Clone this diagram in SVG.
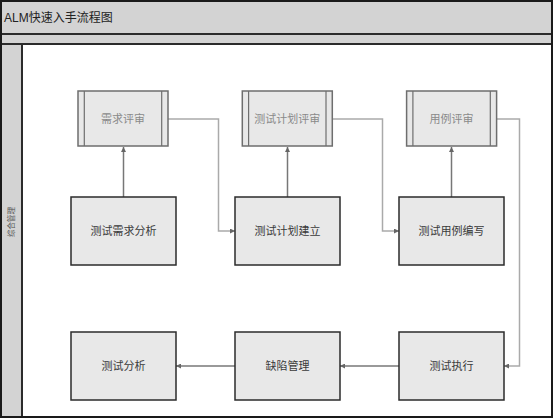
<svg xmlns="http://www.w3.org/2000/svg" width="554" height="419" viewBox="0 0 554 419">
<defs>
<style>
.band{fill:#d3d3d3;stroke:#2b2b2b;stroke-width:2}
.proc{fill:#e8e8e8;stroke:#2b2b2b;stroke-width:1.5}
.rev{fill:#e8e8e8;stroke:#6e6e6e;stroke-width:1.5}
.bar{stroke:#6e6e6e;stroke-width:1.2}
.t{font-family:"Liberation Sans","Noto Sans CJK SC",sans-serif;font-size:11px;text-anchor:middle;dominant-baseline:central}
.tp{fill:#3a3a3a}
.tr{fill:#8a8a8a}
.dk{fill:none;stroke:#777;stroke-width:1.5}
.lt{fill:none;stroke:#aaa;stroke-width:1.5}
</style>
<marker id="ah" viewBox="0 0 6 6" refX="6" refY="3" markerWidth="5" markerHeight="5" markerUnits="userSpaceOnUse" orient="auto">
<path d="M0,0 L6,3 L0,6 z" fill="#666"/>
</marker>
</defs>
<g id="frame">
<rect x="1" y="1" width="551" height="416" fill="#fff" stroke="#2b2b2b" stroke-width="2"/>
<rect class="band" x="1" y="1" width="551" height="33"/>
<rect class="band" x="1" y="34" width="551" height="10"/>
<rect class="band" x="1" y="44" width="21" height="373"/>
<rect x="1" y="1" width="551" height="416" fill="none" stroke="#1a1a1a" stroke-width="2"/>
<text x="4" y="18" font-family="Liberation Sans,'Noto Sans CJK SC',sans-serif" font-size="12" fill="#222" dominant-baseline="central">ALM快速入手流程图</text>
<text transform="translate(11,222) rotate(-90)" font-family="Liberation Sans,'Noto Sans CJK SC',sans-serif" font-size="7.5" fill="#555" text-anchor="middle" dominant-baseline="central">综合管理</text>
</g>
<g id="connectors">
<path class="dk" d="M123.5,197 V147" marker-end="url(#ah)"/>
<path class="dk" d="M287.5,197 V147" marker-end="url(#ah)"/>
<path class="dk" d="M451.5,197 V147" marker-end="url(#ah)"/>
<path class="lt" d="M168,119 H218.5 V231 H235" marker-end="url(#ah)"/>
<path class="lt" d="M332,119 H382.5 V231 H399" marker-end="url(#ah)"/>
<path class="lt" d="M496.5,119 H519.5 V366 H504" marker-end="url(#ah)"/>
<path class="dk" d="M399,366 H340" marker-end="url(#ah)"/>
<path class="dk" d="M235,366 H176" marker-end="url(#ah)"/>
</g>
<g id="n1"><rect class="rev" x="78" y="91" width="90" height="55"/><line class="bar" x1="84.3" y1="91" x2="84.3" y2="146"/><line class="bar" x1="161.7" y1="91" x2="161.7" y2="146"/><text class="t tr" x="123" y="118.5">需求评审</text></g>
<g id="n2"><rect class="rev" x="242.3" y="91" width="90" height="55"/><line class="bar" x1="248.6" y1="91" x2="248.6" y2="146"/><line class="bar" x1="326" y1="91" x2="326" y2="146"/><text class="t tr" x="287.3" y="118.5">测试计划评审</text></g>
<g id="n3"><rect class="rev" x="406.6" y="91" width="90" height="55"/><line class="bar" x1="412.9" y1="91" x2="412.9" y2="146"/><line class="bar" x1="490.3" y1="91" x2="490.3" y2="146"/><text class="t tr" x="451.6" y="118.5">用例评审</text></g>
<g id="n4"><rect class="proc" x="71" y="197" width="105" height="68"/><text class="t tp" x="123.5" y="231">测试需求分析</text></g>
<g id="n5"><rect class="proc" x="235" y="197" width="105" height="68"/><text class="t tp" x="287.5" y="231">测试计划建立</text></g>
<g id="n6"><rect class="proc" x="399" y="197" width="105" height="68"/><text class="t tp" x="451.5" y="231">测试用例编写</text></g>
<g id="n7"><rect class="proc" x="399" y="332" width="105" height="68"/><text class="t tp" x="451.5" y="366">测试执行</text></g>
<g id="n8"><rect class="proc" x="235" y="332" width="105" height="68"/><text class="t tp" x="287.5" y="366">缺陷管理</text></g>
<g id="n9"><rect class="proc" x="71" y="332" width="105" height="68"/><text class="t tp" x="123.5" y="366">测试分析</text></g>
</svg>
